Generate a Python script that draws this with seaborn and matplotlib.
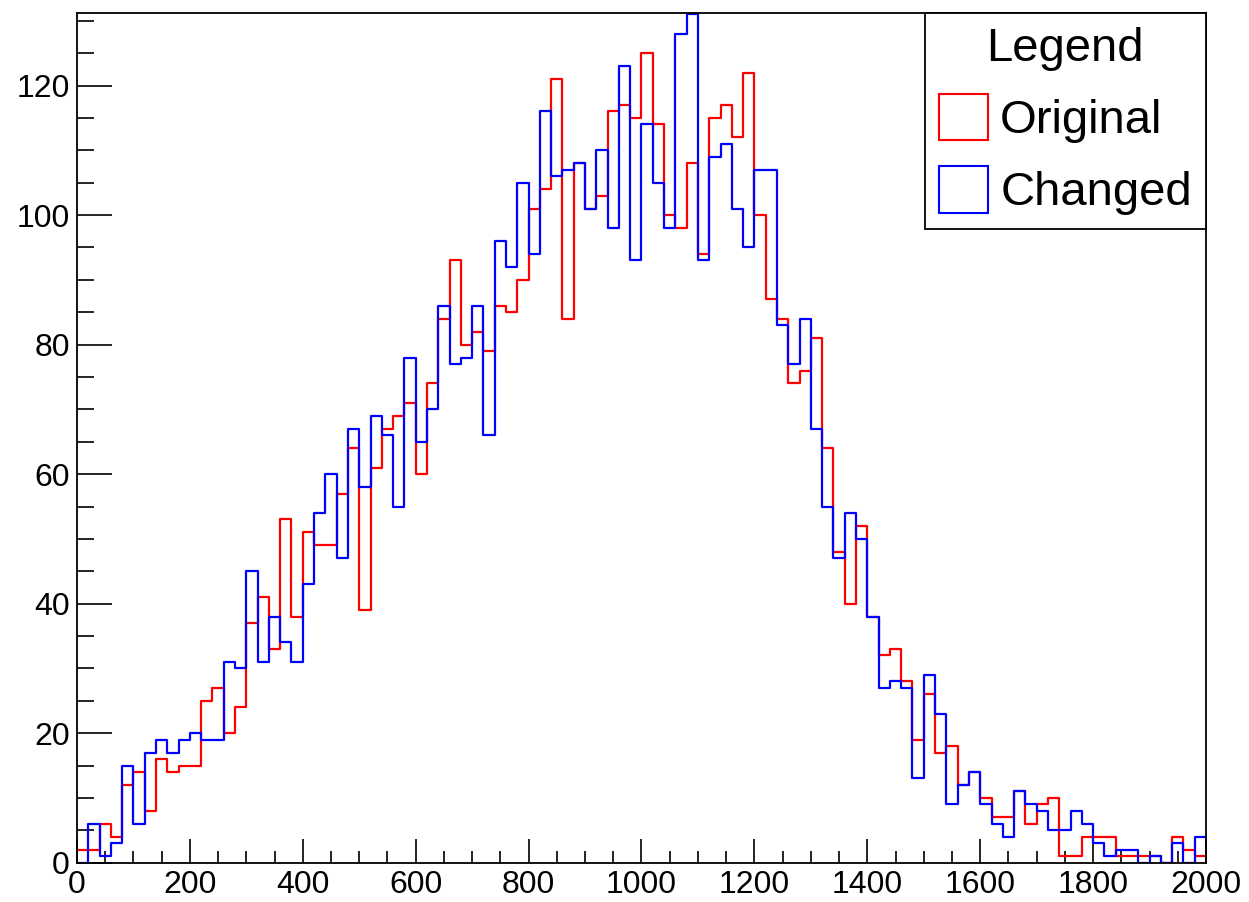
import numpy as np
import pandas as pd
import matplotlib
matplotlib.use("Agg")
import matplotlib.pyplot as plt
from matplotlib.patches import Patch
from matplotlib.ticker import MultipleLocator
import seaborn as sns

# 100 bins of width 20 between 0 and 2000
bin_edges = list(range(0, 2001, 20))

original_counts = [
    2, 2, 6, 4, 12, 14, 8, 16, 14, 15, 15, 25, 27, 20, 24,
    37, 41, 33, 53, 38, 51, 49, 49, 57, 64, 39, 61, 67, 69, 71,
    60, 74, 84, 93, 80, 82, 79, 86, 85, 90, 101, 104, 121, 84, 108,
    101, 103, 116, 117, 115, 125, 114, 100, 98, 108, 94, 115, 117, 112, 122,
    100, 87, 84, 74, 76, 81, 64, 48, 40, 52, 38, 32, 33, 28, 19,
    26, 17, 18, 12, 14, 10, 7, 7, 11, 6, 9, 10, 1, 1, 4,
    4, 4, 1, 1, 1, 1, 0, 4, 2, 1,
]
changed_counts = [
    0, 6, 1, 3, 15, 6, 17, 19, 17, 19, 20, 19, 19, 31, 30,
    45, 31, 38, 34, 31, 43, 54, 60, 47, 67, 58, 69, 66, 55, 78,
    65, 70, 86, 77, 78, 86, 66, 96, 92, 105, 94, 116, 106, 107, 108,
    101, 110, 98, 123, 93, 114, 105, 98, 128, 131, 93, 109, 111, 101, 95,
    107, 107, 83, 77, 84, 67, 55, 47, 54, 50, 38, 27, 28, 27, 13,
    29, 23, 9, 12, 14, 9, 6, 4, 11, 9, 8, 5, 5, 8, 6,
    3, 1, 2, 2, 0, 1, 0, 3, 0, 4,
]
series_names = ["Original", "Changed"]
series_colors = ["#ff0000", "#0000ff"]
y_max = 1.05 * max(original_counts)

edges_arr = np.asarray(bin_edges, dtype=float)
bin_centers = 0.5 * (edges_arr[:-1] + edges_arr[1:])
df_orig = pd.DataFrame({"x": bin_centers, "count": original_counts})
df_chg = pd.DataFrame({"x": bin_centers, "count": changed_counts})

sns.set_style("ticks")
plt.rcParams["font.family"] = ["Liberation Sans", "DejaVu Sans"]
plt.rcParams["text.color"] = "black"

fig = plt.figure(figsize=(12.49, 9.02), dpi=100)
ax = fig.add_axes([0.0616, 0.0436, 0.9040, 0.9423])

for frame, color in zip([df_orig, df_chg], series_colors):
    sns.histplot(data=frame, x="x", weights="count", bins=bin_edges,
                 element="step", fill=False, color=color, linewidth=1.6,
                 ax=ax)

ax.set_xlim(0, 2000)
ax.set_ylim(0, y_max)
ax.set_xlabel("")
ax.set_ylabel("")

ax.xaxis.set_major_locator(MultipleLocator(200))
ax.xaxis.set_minor_locator(MultipleLocator(50))
ax.yaxis.set_major_locator(MultipleLocator(20))
ax.yaxis.set_minor_locator(MultipleLocator(5))

ax.tick_params(axis="both", which="both", direction="in", top=False,
               right=False, colors="black", width=1.2, labelsize=23)
ax.tick_params(axis="x", which="major", length=17, pad=5)
ax.tick_params(axis="x", which="minor", length=8.5)
ax.tick_params(axis="y", which="major", length=25, pad=5)
ax.tick_params(axis="y", which="minor", length=12.5)

for side in ["left", "right", "top", "bottom"]:
    ax.spines[side].set_visible(True)
    ax.spines[side].set_color("black")
    ax.spines[side].set_linewidth(1.3)

handles = [Patch(facecolor="white", edgecolor=c, linewidth=1.5)
           for c in series_colors]
leg = ax.legend(handles, series_names, title="Legend", loc="upper right",
                bbox_to_anchor=(1.0, 1.0), borderaxespad=0, fontsize=34,
                title_fontsize=34, frameon=True, fancybox=False,
                handlelength=1.05, handleheight=1.15, handletextpad=0.25,
                labelspacing=0.48, borderpad=0.3)
leg.get_frame().set_edgecolor("black")
leg.get_frame().set_linewidth(1.3)
leg.get_frame().set_alpha(1)
for txt in leg.get_texts():
    txt.set_color("black")
leg.get_title().set_color("black")

fig.savefig("out.png", dpi=100, facecolor="white")
